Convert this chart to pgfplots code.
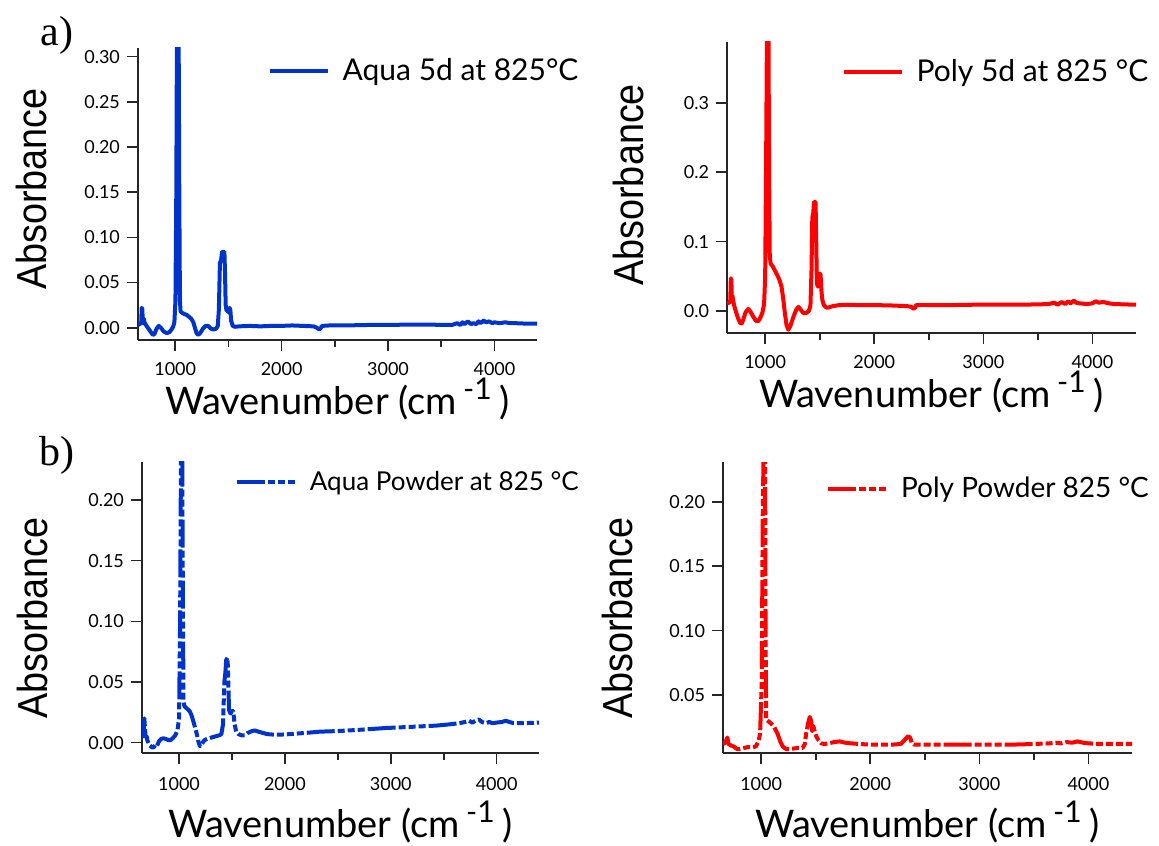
\documentclass[border=0pt]{standalone}
\usepackage{fontspec}
\setmainfont{Lato}
\newfontfamily\absfont{Liberation Sans}
\newfontfamily\serifpanel{Liberation Serif}
\usepackage{pgfplots}
\pgfplotsset{compat=1.18}
\definecolor{igblue}{RGB}{0,51,204}
\definecolor{igred}{RGB}{255,0,0}
\pgfplotsset{
 igor/.style={
   scale only axis, anchor=south west,
   axis x line*=bottom, axis y line*=left,
   axis line style={line width=0.9pt, black!85},
   tick style={line width=0.8pt, black!85},
   tick align=outside,
   major tick length=5.5pt, minor tick length=3.5pt,
   xmin=650, xmax=4400,
   xtick={1000,2000,3000,4000},
   minor xtick={1500,2500,3500},
   xticklabel style={font=\fontsize{9}{10}\selectfont, /pgf/number format/1000 sep={}},
   yticklabel style={font=\fontsize{9}{10}\selectfont, /pgf/number format/fixed, /pgf/number format/fixed zerofill, /pgf/number format/precision=2},
   /pgf/number format/assume math mode=true,
   xlabel={\fontsize{19}{20}\selectfont Wavenumber (cm\,\raisebox{7.5pt}{\fontsize{15}{15}\selectfont -1}\hspace{4pt})},
   ylabel={\absfont\fontsize{21}{22}\selectfont \scalebox{0.9}[1]{Absorbance}},
   legend style={draw=none, fill=none, inner sep=0pt, outer sep=0pt, anchor=west,
     font=\fontsize{15}{16}\selectfont, nodes={inner sep=0pt},
     /tikz/every odd column/.append style={column sep=6.5pt}},
   legend cell align=left,
   legend image code/.code={\draw[##1, line width=2pt] (0pt,0pt) -- (29pt,0pt);},
   every axis plot/.append style={line width=2pt, line join=round},
 },
 powder/.style={dash pattern=on 14pt off 1.5pt on 3.5pt off 1.5pt on 3.5pt off 1.5pt on 3.5pt off 1.5pt},
}
\begin{document}
\begin{tikzpicture}
\useasboundingbox (0,0) rectangle (579.5pt,422.5pt);
\node[font=\serifpanel\fontsize{21}{21}\selectfont] at (28.5pt,405pt) {a)};
\node[font=\serifpanel\fontsize{21}{21}\selectfont] at (28.5pt,195pt) {b)};
% ---- Panel a, left
\begin{axis}[igor, at={(69pt,252.5pt)}, width=199.5pt, height=146pt,
  ymin=-0.0136, ymax=0.3096, ytick={0,0.05,0.10,0.15,0.20,0.25,0.30},
  xticklabel style={yshift=-2pt},
  xlabel style={at={(axis description cs:0.5,-0.255)}, anchor=base},
  ylabel style={at={(axis description cs:-0.266,0.517)}, anchor=center},
  legend style={at={(axis description cs:0.325,0.921)}}]
\addplot[igblue] coordinates {
(650,0.003)(665,0.004)(680,0.005)(685,0.022)(690,0.021)(695,0.008)(700,0.005)(705,0.010)(710,0.006)
(730,0.002)(760,-0.003)(790,-0.008)(805,-0.007)(825,-0.001)(845,0.002)(865,0.000)(890,-0.004)
(920,-0.006)(945,-0.005)(965,-0.002)(980,0.001)(992,0.006)(1002,0.03)(1010,0.15)(1016,0.32)
(1032,0.32)(1038,0.15)(1044,0.03)(1050,0.018)(1070,0.016)(1090,0.015)(1110,0.014)(1130,0.012)
(1150,0.010)(1170,0.006)(1185,0.000)(1200,-0.006)(1215,-0.008)(1235,-0.006)(1260,-0.001)
(1285,0.002)(1310,0.002)(1335,-0.001)(1360,-0.002)(1385,-0.001)(1400,0.002)(1410,0.02)
(1420,0.072)(1430,0.074)(1440,0.084)(1462,0.084)(1468,0.06)(1474,0.025)(1482,0.019)(1492,0.021)
(1500,0.017)(1510,0.022)(1518,0.020)(1525,0.008)(1540,0.002)(1560,0.001)(1600,0.0015)
(1700,0.002)(1800,0.0015)(1900,0.002)(2000,0.002)(2100,0.0025)(2200,0.002)(2300,0.0015)
(2330,0.000)(2355,-0.002)(2370,0.000)(2380,0.002)(2450,0.0025)(2600,0.0025)(2800,0.003)
(3000,0.003)(3200,0.0035)(3400,0.0035)(3500,0.003)(3600,0.003)(3650,0.005)(3680,0.003)
(3700,0.006)(3720,0.004)(3750,0.007)(3780,0.004)(3800,0.005)(3830,0.004)(3850,0.007)(3870,0.005)
(3900,0.008)(3920,0.006)(3950,0.007)(3980,0.005)(4000,0.006)(4050,0.005)(4100,0.006)(4150,0.005)
(4200,0.005)(4300,0.0045)(4400,0.0045)};
\addlegendentry{Aqua 5d at 825°C}
\end{axis}
% ---- Panel a, right
\begin{axis}[igor, at={(363.5pt,256pt)}, width=204.5pt, height=145.5pt,
  ymin=-0.0317, ymax=0.3875, ytick={0,0.1,0.2,0.3},
  yticklabel style={/pgf/number format/precision=1},
  xticklabel style={yshift=-2pt},
  xlabel style={at={(axis description cs:0.5,-0.255)}, anchor=base},
  ylabel style={at={(axis description cs:-0.242,0.509)}, anchor=center},
  legend style={at={(axis description cs:0.280,0.898)}}]
\addplot[igred] coordinates {
(650,0.011)(670,0.012)(680,0.015)(685,0.047)(690,0.045)(694,0.018)(700,0.022)(705,0.016)
(715,0.008)(730,0.000)(750,-0.010)(770,-0.017)(785,-0.018)(800,-0.012)(820,-0.002)(845,0.003)
(865,-0.001)(890,-0.008)(915,-0.014)(935,-0.015)(955,-0.010)(975,-0.002)(990,0.010)(1000,0.05)
(1010,0.25)(1016,0.40)(1030,0.40)(1036,0.2)(1042,0.08)(1050,0.068)(1070,0.064)(1090,0.058)
(1110,0.052)(1130,0.045)(1150,0.035)(1165,0.018)(1180,-0.002)(1195,-0.020)(1212,-0.027)
(1230,-0.022)(1260,-0.008)(1285,0.002)(1305,0.006)(1325,0.002)(1350,-0.003)(1375,-0.003)
(1400,0.000)(1415,0.008)(1425,0.06)(1432,0.135)(1440,0.14)(1448,0.157)(1462,0.157)(1468,0.10)
(1474,0.040)(1482,0.035)(1490,0.050)(1500,0.054)(1508,0.052)(1515,0.030)(1525,0.015)(1540,0.008)
(1560,0.005)(1580,0.005)(1620,0.007)(1680,0.0085)(1750,0.009)(1850,0.0085)(2000,0.0085)
(2150,0.008)(2300,0.007)(2340,0.006)(2360,0.003)(2375,0.005)(2385,0.0085)(2500,0.0085)
(2700,0.0085)(2900,0.009)(3100,0.009)(3300,0.009)(3500,0.0095)(3600,0.010)(3650,0.012)
(3680,0.009)(3720,0.013)(3750,0.010)(3780,0.014)(3800,0.011)(3830,0.015)(3850,0.012)(3880,0.011)
(3950,0.010)(4000,0.011)(4030,0.014)(4060,0.012)(4100,0.013)(4150,0.011)(4200,0.010)(4300,0.0095)
(4400,0.009)};
\addlegendentry{Poly 5d at 825 °C}
\end{axis}
% ---- Panel b, left
\begin{axis}[igor, at={(71pt,46pt)}, width=198.5pt, height=145.5pt,
  ymin=-0.0086, ymax=0.2314, ytick={0,0.05,0.10,0.15,0.20},
  xticklabel style={yshift=-3pt},
  xlabel style={at={(axis description cs:0.5,-0.289)}, anchor=base},
  ylabel style={at={(axis description cs:-0.277,0.464)}, anchor=center},
  legend style={at={(axis description cs:0.234,0.931)}, font=\fontsize{13}{15}\selectfont}]
\addplot[igblue, powder] coordinates {
(650,0.006)(665,0.005)(672,0.020)(678,0.012)(685,0.004)(695,0.005)(700,0.002)(720,-0.002)
(745,-0.004)(760,-0.004)(775,-0.002)(790,-0.003)(810,0.001)(830,0.003)(852,0.0035)(875,0.003)
(900,0.002)(920,0.002)(945,0.004)(965,0.006)(985,0.010)(1000,0.02)(1010,0.1)(1018,0.235)
(1030,0.235)(1036,0.12)(1042,0.035)(1050,0.030)(1075,0.028)(1100,0.026)(1120,0.022)(1140,0.016)
(1165,0.008)(1185,0.000)(1198,-0.003)(1215,-0.001)(1240,0.002)(1265,0.003)(1300,0.004)
(1340,0.005)(1380,0.006)(1400,0.007)(1415,0.015)(1428,0.050)(1438,0.058)(1445,0.068)(1458,0.070)
(1465,0.050)(1472,0.027)(1485,0.024)(1500,0.026)(1512,0.026)(1525,0.015)(1540,0.009)(1560,0.007)
(1590,0.006)(1620,0.006)(1650,0.008)(1690,0.0095)(1716,0.010)(1750,0.009)(1790,0.008)(1830,0.007)
(1900,0.0065)(1950,0.0065)(2050,0.007)(2200,0.008)(2330,0.009)(2500,0.0095)(2700,0.0105)
(2950,0.012)(3200,0.013)(3430,0.014)(3550,0.015)(3650,0.016)(3700,0.017)(3740,0.018)(3770,0.0165)
(3800,0.018)(3834,0.019)(3860,0.017)(3897,0.016)(3930,0.017)(3960,0.016)(4000,0.0165)(4050,0.017)
(4085,0.018)(4120,0.017)(4160,0.016)(4250,0.016)(4400,0.0165)};
\addlegendentry{Aqua Powder at 825 °C}
\end{axis}
% ---- Panel b, right
\begin{axis}[igor, at={(361.5pt,46pt)}, width=204.5pt, height=145.5pt,
  ymin=0.005, ymax=0.231, ytick={0.05,0.10,0.15,0.20},
  xticklabel style={yshift=-3pt},
  xlabel style={at={(axis description cs:0.5,-0.289)}, anchor=base},
  ylabel style={at={(axis description cs:-0.259,0.464)}, anchor=center},
  legend style={at={(axis description cs:0.252,0.907)}, font=\fontsize{14}{15}\selectfont}]
\addplot[igred, powder] coordinates {
(650,0.012)(670,0.013)(690,0.017)(700,0.012)(720,0.011)(750,0.010)(780,0.008)(800,0.008)
(830,0.0085)(870,0.0095)(920,0.0095)(950,0.010)(975,0.014)(990,0.020)(1005,0.06)(1015,0.2)
(1022,0.235)(1036,0.235)(1040,0.1)(1046,0.031)(1060,0.030)(1090,0.028)(1120,0.025)(1150,0.020)
(1175,0.014)(1198,0.010)(1230,0.008)(1260,0.008)(1300,0.0085)(1340,0.009)(1380,0.009)(1400,0.012)
(1412,0.020)(1430,0.028)(1445,0.033)(1458,0.030)(1468,0.022)(1478,0.026)(1490,0.022)(1505,0.018)
(1525,0.015)(1550,0.0125)(1580,0.012)(1620,0.0125)(1670,0.0135)(1720,0.014)(1770,0.013)
(1820,0.0125)(1900,0.012)(2000,0.0115)(2100,0.0115)(2200,0.0115)(2280,0.012)(2320,0.0155)
(2345,0.018)(2366,0.017)(2380,0.013)(2400,0.0115)(2500,0.0115)(2700,0.0115)(2900,0.0115)
(3100,0.0115)(3300,0.0115)(3500,0.012)(3650,0.0125)(3700,0.0130)(3750,0.0125)(3800,0.0135)
(3850,0.013)(3900,0.014)(3950,0.013)(4000,0.0125)(4100,0.012)(4200,0.012)(4300,0.012)(4400,0.012)};
\addlegendentry{Poly Powder 825 °C}
\end{axis}
\end{tikzpicture}
\end{document}
